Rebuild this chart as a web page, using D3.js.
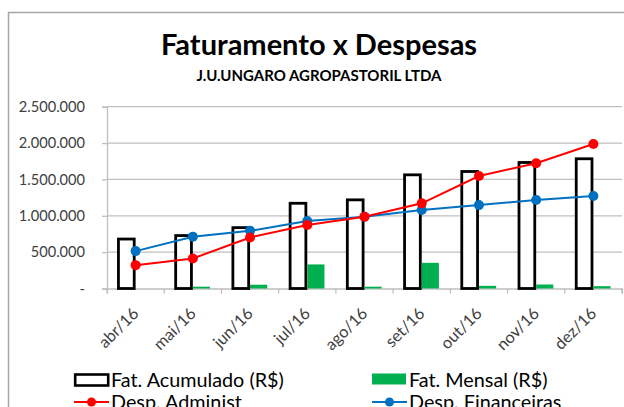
<!DOCTYPE html>
<html>
<head>
<meta charset="utf-8">
<script src="https://cdn.jsdelivr.net/npm/d3@7"></script>
<style>
  html, body { margin: 0; padding: 0; background: #fff; }
  svg { display: block; }
  text { font-family: Lato, "Open Sans", sans-serif; }
</style>
</head>
<body>
<svg id="chart" width="624" height="407"></svg>
<script>
const months = ["abr/16","mai/16","jun/16","jul/16","ago/16","set/16","out/16","nov/16","dez/16"];
const fatAcumulado = [680000, 728000, 837000, 1172000, 1219000, 1563000, 1609000, 1733000, 1784000];
const fatMensal = [0, 25000, 52000, 331000, 25000, 353000, 37000, 55000, 32000];
const despAdminist = [321000, 413000, 702000, 872000, 986000, 1171000, 1547000, 1722000, 1988000];
const despFinanceiras = [514000, 711000, 793000, 927000, 986000, 1079000, 1147000, 1216000, 1271000];
const yTicks = [0, 500000, 1000000, 1500000, 2000000, 2500000];
const seriesNames = ["Fat. Acumulado (R$)", "Fat. Mensal (R$)", "Desp. Administ", "Desp. Financeiras"];
const titleText = "Faturamento x Despesas";
const subtitleText = "J.U.UNGARO AGROPASTORIL LTDA";

const colors = { acum: "#000000", mensal: "#00b050", adm: "#ff0000", fin: "#0070c0" };

const svg = d3.select("#chart");

// chart frame
svg.append("rect").attr("x", 8.5).attr("y", 12.5).attr("width", 700).attr("height", 500)
  .attr("fill", "none").attr("stroke", "#a6a6a6").attr("stroke-width", 1.5);

const x = d3.scaleBand().domain(months).range([107, 622]).padding(0);
const y = d3.scaleLinear().domain([0, 2500000]).range([288.5, 106.7]);
const sub = d3.scaleBand().domain(["acum", "mensal"]).range([0.2, 0.8].map(f => f * x.bandwidth()));

const locale = d3.formatLocale({ decimal: ",", thousands: ".", grouping: [3], currency: ["R$", ""] });
const fmt = locale.format(",.0f");

// title
svg.append("text").attr("x", 319).attr("y", 54.5).attr("text-anchor", "middle")
  .attr("font-size", 29).attr("font-weight", "bold").attr("fill", "#000").text(titleText);
svg.append("text").attr("x", 319).attr("y", 80.5).attr("text-anchor", "middle")
  .attr("font-size", 15).attr("font-weight", "bold").attr("fill", "#000").text(subtitleText);

// gridlines
svg.append("g").selectAll("line").data(yTicks.slice(1)).join("line")
  .attr("x1", 107).attr("x2", 622).attr("y1", d => y(d)).attr("y2", d => y(d))
  .attr("stroke", "#bfbfbf").attr("stroke-width", 1.3);

// y axis
const yAxis = d3.axisLeft(y).tickValues(yTicks).tickSize(5).tickPadding(17)
  .tickFormat(d => d === 0 ? "-" : fmt(d));
const gy = svg.append("g").attr("transform", "translate(107,0)").call(yAxis);
gy.select(".domain").attr("stroke", "#bfbfbf").attr("stroke-width", 1.3);
gy.selectAll(".tick line").attr("stroke", "#bfbfbf").attr("stroke-width", 1.3);
gy.selectAll(".tick text").attr("font-size", 14.6).attr("fill", "#404040")
  .attr("font-family", "Lato, sans-serif");

// x axis
const xAxis = d3.axisBottom(x).tickSize(5).tickFormat("");
const gx = svg.append("g").attr("transform", "translate(0,288.5)").call(xAxis);
gx.select(".domain").attr("stroke", "#bfbfbf").attr("stroke-width", 1.3);
gx.selectAll(".tick").remove();
gx.selectAll("line.b").data(months.concat(["end"])).join("line").attr("class", "b")
  .attr("x1", (d, i) => i < months.length ? x(d) : x.range()[1])
  .attr("x2", (d, i) => i < months.length ? x(d) : x.range()[1])
  .attr("y1", 0).attr("y2", 5).attr("stroke", "#bfbfbf").attr("stroke-width", 1.3);
gx.selectAll("text.lbl").data(months).join("text").attr("class", "lbl")
  .attr("transform", d => `translate(${x(d) + x.bandwidth() / 2 + 4},26) rotate(-45)`)
  .attr("text-anchor", "end").attr("font-size", 16.3).attr("fill", "#404040").text(d => d);

// bars
svg.append("g").selectAll("rect").data(fatAcumulado).join("rect")
  .attr("x", (d, i) => x(months[i]) + sub("acum"))
  .attr("width", sub.bandwidth() - 1.4)
  .attr("y", d => y(d)).attr("height", d => y(0) - y(d))
  .attr("fill", "#fff").attr("stroke", colors.acum).attr("stroke-width", 2.8);
svg.append("g").selectAll("rect").data(fatMensal).join("rect")
  .attr("x", (d, i) => x(months[i]) + sub("mensal"))
  .attr("width", sub.bandwidth())
  .attr("y", d => y(d)).attr("height", d => y(0) - y(d))
  .attr("fill", colors.mensal);

// lines
function drawLine(vals, color) {
  const line = d3.line().x((d, i) => x(months[i]) + x.bandwidth() / 2).y(d => y(d));
  const g = svg.append("g");
  g.append("path").attr("d", line(vals)).attr("fill", "none").attr("stroke", color).attr("stroke-width", 2);
  g.selectAll("circle").data(vals).join("circle")
    .attr("cx", (d, i) => x(months[i]) + x.bandwidth() / 2).attr("cy", d => y(d))
    .attr("r", 5).attr("fill", color);
}
drawLine(despFinanceiras, colors.fin);
drawLine(despAdminist, colors.adm);

// legend
const leg = svg.append("g");
const legItems = [
  { name: seriesNames[0], type: "box", x: 74, y: 380 },
  { name: seriesNames[1], type: "fill", x: 372, y: 380 },
  { name: seriesNames[2], type: "line", x: 74, y: 402, color: colors.adm },
  { name: seriesNames[3], type: "line", x: 372, y: 402, color: colors.fin }
];
legItems.forEach(it => {
  if (it.type === "box") {
    leg.append("rect").attr("x", it.x + 1.2).attr("y", it.y - 5.5).attr("width", 33).attr("height", 11)
      .attr("fill", "#fff").attr("stroke", "#000").attr("stroke-width", 2.6);
  } else if (it.type === "fill") {
    leg.append("rect").attr("x", it.x).attr("y", it.y - 6.5).attr("width", 34).attr("height", 11)
      .attr("fill", colors.mensal);
  } else {
    leg.append("line").attr("x1", it.x).attr("x2", it.x + 35).attr("y1", it.y).attr("y2", it.y)
      .attr("stroke", it.color).attr("stroke-width", 2);
    leg.append("circle").attr("cx", it.x + 17.5).attr("cy", it.y).attr("r", 4.5).attr("fill", it.color);
  }
  leg.append("text").attr("x", it.x + 37).attr("y", it.y + 6.5).attr("font-size", 19.8)
    .attr("fill", "#000").text(it.name);
});
</script>
</body>
</html>
